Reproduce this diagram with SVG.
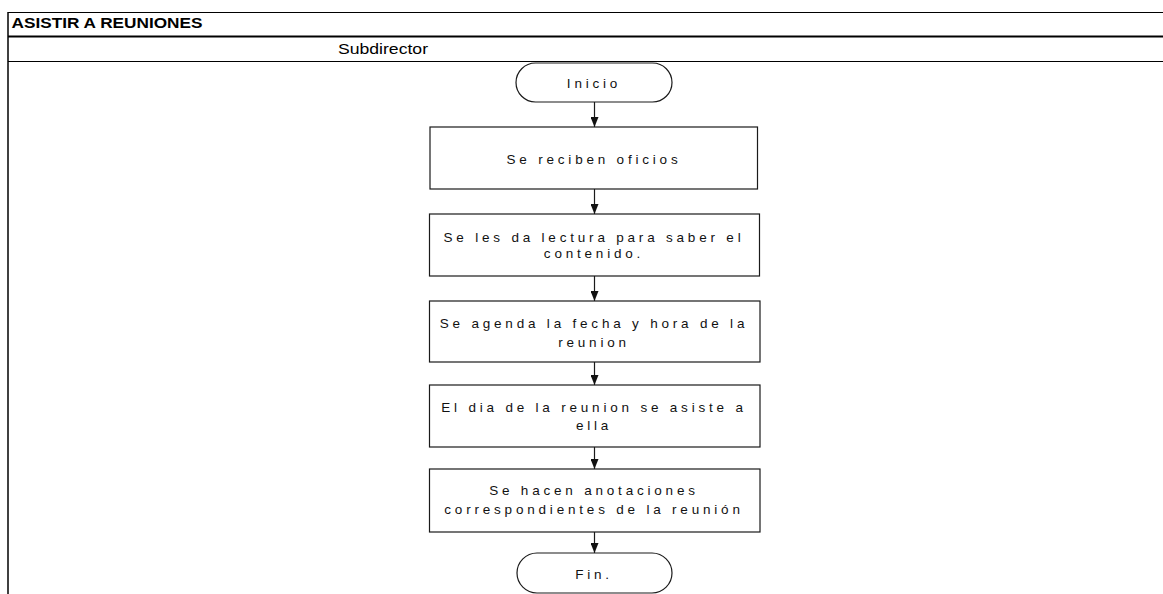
<svg xmlns="http://www.w3.org/2000/svg" width="1163" height="594" viewBox="0 0 1163 594">
  <style>
    .frame { stroke: #000; fill: none; }
    .shape { fill: #fff; stroke: #1a1a1a; stroke-width: 1.2; }
    .lbl { font-family: "Liberation Sans", Arial, sans-serif; font-size: 13.5px; letter-spacing: 3.8px; fill: #111; text-anchor: middle; }
    .conn { stroke: #1a1a1a; stroke-width: 1.2; fill: none; marker-end: url(#arrow); }
  </style>
  <defs>
    <marker id="arrow" viewBox="0 0 10 8" refX="10" refY="4" markerWidth="10" markerHeight="8" markerUnits="userSpaceOnUse" orient="auto">
      <path d="M0,0 L10,4 L0,8 Z" fill="#111"/>
    </marker>
  </defs>
  <rect width="1163" height="594" fill="#fff"/>

  <!-- swimlane frame -->
  <g id="frame">
    <line class="frame" x1="8" y1="12.5" x2="1163" y2="12.5" stroke-width="1"/>
    <line class="frame" x1="8" y1="36.5" x2="1163" y2="36.5" stroke-width="2"/>
    <line class="frame" x1="8" y1="61.5" x2="1163" y2="61.5" stroke-width="1"/>
    <line class="frame" x1="8" y1="12" x2="8" y2="594" stroke-width="1.5"/>
    <text x="11.5" y="28" font-family="Liberation Sans, Arial, sans-serif" font-size="15.5" font-weight="bold" fill="#000" textLength="191" lengthAdjust="spacingAndGlyphs">ASISTIR A REUNIONES</text>
    <text x="338" y="54" font-family="Liberation Sans, Arial, sans-serif" font-size="15.5" fill="#000" textLength="90" lengthAdjust="spacingAndGlyphs">Subdirector</text>
  </g>

  <!-- connectors -->
  <g id="connectors">
    <line class="conn" x1="594.5" y1="102" x2="594.5" y2="127"/>
    <line class="conn" x1="594.5" y1="189" x2="594.5" y2="214"/>
    <line class="conn" x1="594.5" y1="276" x2="594.5" y2="301"/>
    <line class="conn" x1="594.5" y1="362" x2="594.5" y2="385"/>
    <line class="conn" x1="594.5" y1="447" x2="594.5" y2="469"/>
    <line class="conn" x1="594.5" y1="532" x2="594.5" y2="553"/>
  </g>

  <g id="inicio">
    <rect class="shape" x="516" y="63" width="156" height="39" rx="19.5" ry="19.5"/>
    <text class="lbl" x="594" y="88">Inicio</text>
  </g>

  <g id="recibir-oficios">
    <rect class="shape" x="430" y="127" width="327.5" height="62"/>
    <text class="lbl" x="594" y="164">Se reciben oficios</text>
  </g>

  <g id="leer-oficios">
    <rect class="shape" x="429.5" y="214" width="330" height="62"/>
    <text class="lbl" x="594" y="241.5">Se les da lectura para saber el</text>
    <text class="lbl" x="594" y="258">contenido.</text>
  </g>

  <g id="agendar">
    <rect class="shape" x="429.5" y="301" width="330.5" height="61"/>
    <text class="lbl" x="594" y="328">Se agenda la fecha y hora de la</text>
    <text class="lbl" x="594" y="346.5">reunion</text>
  </g>

  <g id="asistir">
    <rect class="shape" x="429.5" y="385" width="330.5" height="62"/>
    <text class="lbl" x="594" y="411.5">El dia de la reunion se asiste a</text>
    <text class="lbl" x="594" y="430">ella</text>
  </g>

  <g id="anotaciones">
    <rect class="shape" x="429.5" y="469" width="330.5" height="63"/>
    <text class="lbl" x="594" y="495">Se hacen anotaciones</text>
    <text class="lbl" x="594" y="514">correspondientes de la reunión</text>
  </g>

  <g id="fin">
    <rect class="shape" x="517" y="553" width="155" height="40" rx="20" ry="20"/>
    <text class="lbl" x="594" y="578.5">Fin.</text>
  </g>
</svg>
